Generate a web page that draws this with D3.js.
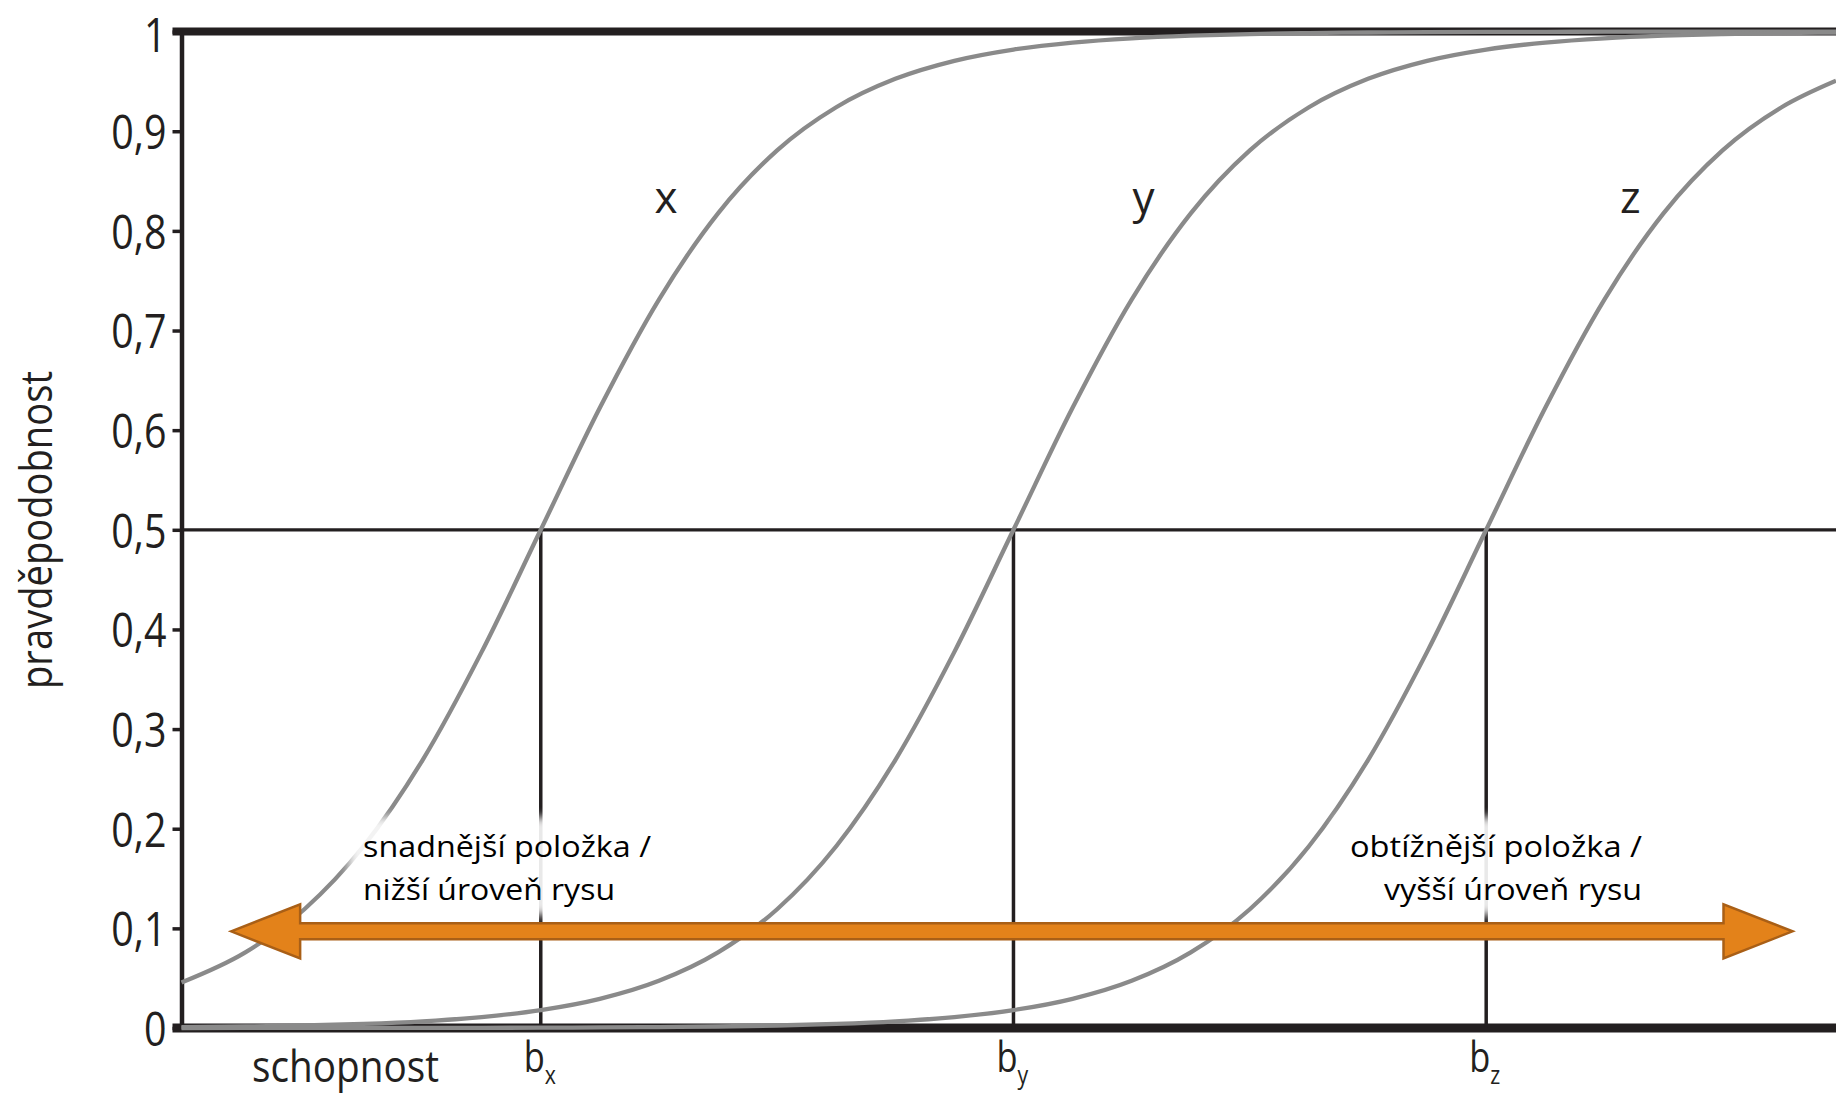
<!DOCTYPE html>
<html>
<head>
<meta charset="utf-8">
<script src="https://cdn.jsdelivr.net/npm/d3@7"></script>
<style>
  html, body { margin: 0; padding: 0; background: #fff; }
  svg { display: block; }
</style>
</head>
<body>
<svg id="chart" width="1836" height="1096"></svg>
<script>
// ---------- data ----------
const abilities = [-1.76, -1.625, -1.5, -1.375, -1.25, -1.125, -1, -0.875, -0.75, -0.625, -0.5, -0.375, -0.25, -0.125, 0,
  0.125, 0.25, 0.375, 0.5, 0.625, 0.75, 0.875, 1, 1.125, 1.25, 1.375, 1.5, 1.625, 1.74];
const probX = [0.0457, 0.0759, 0.1192, 0.1824, 0.2689, 0.3775, 0.5, 0.6225, 0.7311, 0.8176, 0.8808, 0.9241, 0.9526, 0.9707, 0.982,
  0.989, 0.9933, 0.9959, 0.9975, 0.9985, 0.9991, 0.99945, 0.99966, 0.9998, 0.99988, 0.99993, 0.99995, 0.99997, 0.99998];
const probY = [0.00088, 0.0015, 0.0025, 0.0041, 0.0067, 0.011, 0.018, 0.0293, 0.0474, 0.0759, 0.1192, 0.1824, 0.2689, 0.3775, 0.5,
  0.6225, 0.7311, 0.8176, 0.8808, 0.9241, 0.9526, 0.9707, 0.982, 0.989, 0.9933, 0.9959, 0.9975, 0.9985, 0.99905];
const probZ = [0.000016, 0.000028, 0.000045, 0.000075, 0.000123, 0.0002, 0.00034, 0.00055, 0.0009, 0.0015, 0.0025, 0.0041, 0.0067, 0.011, 0.018,
  0.0293, 0.0474, 0.0759, 0.1192, 0.1824, 0.2689, 0.3775, 0.5, 0.6225, 0.7311, 0.8176, 0.8808, 0.9241, 0.9507];
const itemNames = ["x", "y", "z"];
const difficulties = [-1, 0, 1];
const itemLabelAbility = [-0.735, 0.275, 1.305];
const itemLabelProb = 0.83;
const yTicks = [0, 0.1, 0.2, 0.3, 0.4, 0.5, 0.6, 0.7, 0.8, 0.9, 1];
const yTickLabels = ["0", "0,1", "0,2", "0,3", "0,4", "0,5", "0,6", "0,7", "0,8", "0,9", "1"];
const yTitle = "pravděpodobnost";
const xTitle = "schopnost";
const midProb = 0.5;
const arrowFrom = -1.655, arrowTo = 1.648, arrowLevel = 0.097;
const leftNote = ["snadnější položka /", "nižší úroveň rysu"];
const rightNote = ["obtížnější položka /", "vyšší úroveň rysu"];

// ---------- layout ----------
const W = 1836, H = 1096;
const svg = d3.select("#chart");
const x = d3.scaleLinear().domain([-1.76, 1.74]).range([181.5, 1836]);
const y = d3.scaleLinear().domain([0, 1]).range([1028, 31.6]);
const ink = "#231f20";
const myriad = "'Open Sans', 'Noto Sans', sans-serif";

const defs = svg.append("defs");
defs.append("filter").attr("id", "soft").attr("x", "-10%").attr("y", "-20%").attr("width", "120%").attr("height", "140%")
  .append("feGaussianBlur").attr("stdDeviation", 5);

// y axis
const yAxis = d3.axisLeft(y).tickValues(yTicks)
  .tickFormat((d, i) => yTickLabels[i]).tickSize(9).tickSizeOuter(0);
const gy = svg.append("g").attr("transform", `translate(${x.range()[0]},0)`).call(yAxis);
gy.select(".domain").attr("stroke", ink).attr("stroke-width", 4.5);
gy.selectAll(".tick line").attr("stroke", ink).attr("stroke-width", 3.5);
const sx = 0.82;
gy.selectAll(".tick text")
  .attr("fill", ink)
  .attr("font-family", myriad)
  .attr("font-size", 48)
  .attr("x", -15 / sx)
  .attr("dy", d => d === 1 ? "0.41em" : "0.36em")
  .attr("transform", `scale(${sx},1)`);

// frame lines: top (p=1) and bottom (p=0)
svg.append("line").attr("x1", x.range()[0] - 9).attr("x2", W)
  .attr("y1", y(1)).attr("y2", y(1)).attr("stroke", ink).attr("stroke-width", 8);
svg.append("line").attr("x1", x.range()[0] - 9).attr("x2", W)
  .attr("y1", y(0)).attr("y2", y(0)).attr("stroke", ink).attr("stroke-width", 9);

// 0.5 line
svg.append("line").attr("x1", x.range()[0]).attr("x2", W)
  .attr("y1", y(midProb)).attr("y2", y(midProb)).attr("stroke", ink).attr("stroke-width", 3.2);

// difficulty verticals
svg.selectAll(".bline").data(difficulties).join("line")
  .attr("x1", d => x(d)).attr("x2", d => x(d))
  .attr("y1", y(midProb)).attr("y2", y(0))
  .attr("stroke", ink).attr("stroke-width", 3.5);

// curves
const series = [probX, probY, probZ];
const line = d3.line().x(d => x(d[0])).y(d => y(d[1])).curve(d3.curveMonotoneX);
svg.selectAll(".icc").data(series).join("path")
  .attr("d", s => line(abilities.map((a, i) => [a, s[i]])))
  .attr("fill", "none").attr("stroke", "#8a8a8a").attr("stroke-width", 4.3);

// curve labels
svg.selectAll(".iname").data(itemNames).join("text")
  .attr("x", (d, i) => x(itemLabelAbility[i])).attr("y", y(itemLabelProb))
  .attr("dy", "0.27em").attr("text-anchor", "middle")
  .attr("font-family", myriad).attr("font-size", 44).attr("fill", ink)
  .text(d => d);

// b labels
const bl = svg.selectAll(".blab").data(difficulties).join("text")
  .attr("transform", d => `translate(${x(d) - 17},1072) scale(0.82,1)`)
  .attr("font-family", myriad).attr("font-size", 42).attr("fill", ink);
bl.append("tspan").text("b");
bl.append("tspan").attr("font-size", 26).attr("dy", 12).text((d, i) => itemNames[i]);

// axis titles
svg.append("text")
  .attr("transform", "translate(52,530) rotate(-90)")
  .attr("text-anchor", "middle").attr("font-family", myriad).attr("font-size", 43)
  .attr("fill", ink).attr("textLength", 318).attr("lengthAdjust", "spacingAndGlyphs")
  .text(yTitle);
svg.append("text")
  .attr("x", 252).attr("y", 1082)
  .attr("font-family", myriad).attr("font-size", 43)
  .attr("fill", ink).attr("textLength", 187).attr("lengthAdjust", "spacingAndGlyphs")
  .text(xTitle);

// notes with soft white backgrounds
function note(lines, ax, anchor, lens) {
  const g = svg.append("g");
  const bg = g.append("rect");
  const t = g.append("g");
  lines.forEach((s, i) => {
    t.append("text").attr("x", ax).attr("y", 857 + i * 43)
      .attr("text-anchor", anchor)
      .attr("font-family", "'Open Sans', 'Noto Sans', sans-serif").attr("font-size", 30)
      .attr("fill", "#000").attr("textLength", lens[i]).attr("lengthAdjust", "spacingAndGlyphs")
      .text(s);
  });
  const bb = t.node().getBBox();
  bg.attr("x", bb.x - 14).attr("y", bb.y - 8).attr("width", bb.width + 28).attr("height", bb.height + 14)
    .attr("fill", "#fff").attr("opacity", 0.9).attr("filter", "url(#soft)");
}
note(leftNote, 363, "start", [288, 252]);
note(rightNote, 1642, "end", [292, 258]);

// double arrow
const L = x(arrowFrom), R = x(arrowTo), yc = y(arrowLevel);
const hl = 69, hh = 27, sh = 8;
const arrowPath = [
  [L, yc], [L + hl, yc - hh], [L + hl, yc - sh], [R - hl, yc - sh], [R - hl, yc - hh],
  [R, yc], [R - hl, yc + hh], [R - hl, yc + sh], [L + hl, yc + sh], [L + hl, yc + hh]
];
svg.append("path")
  .attr("d", d3.line()(arrowPath) + "Z")
  .attr("fill", "#e3821a").attr("stroke", "#a95f16").attr("stroke-width", 2.5)
  .attr("stroke-linejoin", "miter");
</script>
</body>
</html>
